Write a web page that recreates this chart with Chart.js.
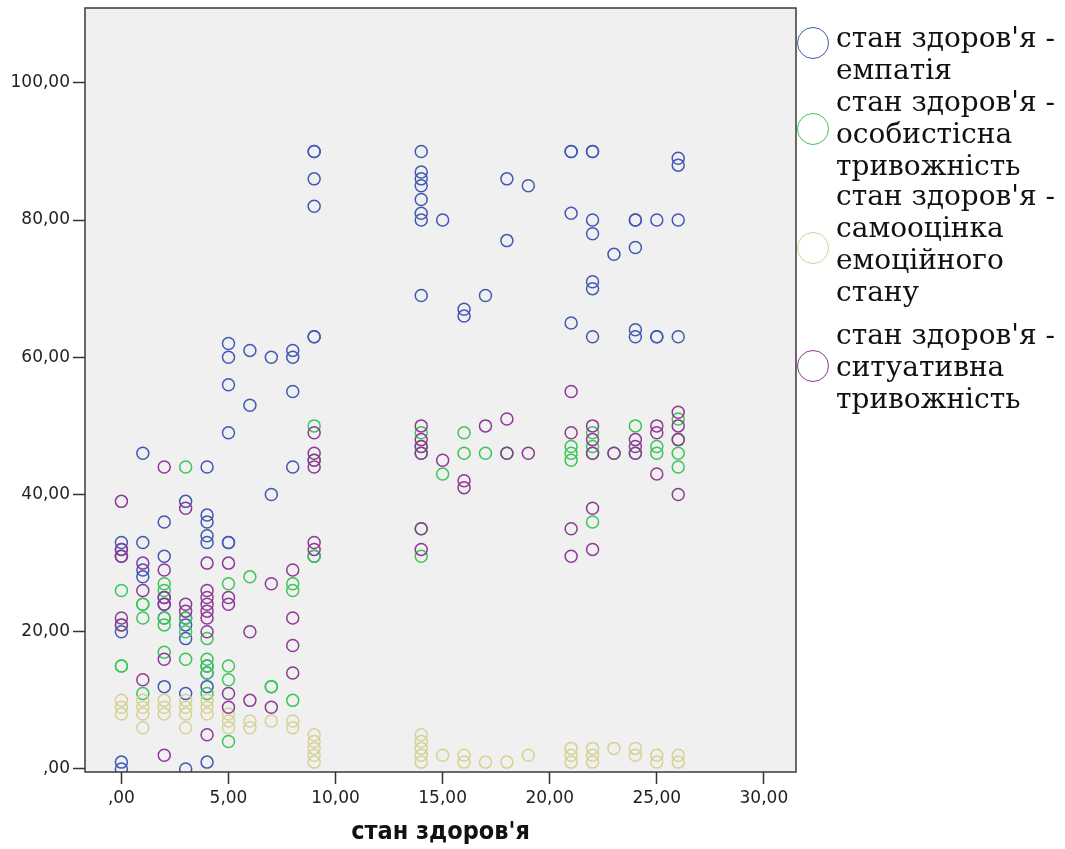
<!DOCTYPE html>
<html>
<head>
<meta charset="utf-8">
<script src="https://cdn.jsdelivr.net/npm/chart.js@4.4.1/dist/chart.umd.min.js"></script>
<style>
  html, body { margin: 0; padding: 0; background: #ffffff; }
  #wrap { position: relative; width: 1065px; height: 849px; overflow: hidden; }
  #c { position: absolute; left: 0; top: 0; }
  .lg-circle { position: absolute; width: 32px; height: 32px; border-radius: 50%; box-sizing: border-box; border: 1.6px solid; }
  .lg-text { position: absolute; left: 836px; font-family: "DejaVu Serif", "Liberation Serif", serif; font-size: 28px; line-height: 32px; color: #111; white-space: nowrap; }
</style>
</head>
<body>
<div id="wrap">
  <canvas id="c" width="1065" height="849"></canvas>
</div>
<script>
// ---------- data ----------
const seriesNames = [
  ["стан здоров'я -", "емпатія"],
  ["стан здоров'я -", "особистісна", "тривожність"],
  ["стан здоров'я -", "самооцінка", "емоційного", "стану"],
  ["стан здоров'я -", "ситуативна", "тривожність"]
];
const xTitle = "стан здоров'я";
const xTickValues = [0, 5, 10, 15, 20, 25, 30];
const yTickValues = [0, 20, 40, 60, 80, 100];

// емпатія
const empathyX = [
  0,0,0,0,0,0,
  1,1,1,1,
  2,2,2,2,2,2,
  3,3,3,3,3,3,
  4,4,4,4,4,4,4,4,4,
  5,5,5,5,5,5,
  6,6,
  7,7,
  8,8,8,8,
  9,9,9,9,9,9,9,
  14,14,14,14,14,14,14,14,
  15,
  16,16,
  17,
  18,18,
  19,
  21,21,21,21,
  22,22,22,22,22,22,22,
  23,
  24,24,24,24,24,
  25,25,25,
  26,26,26,26
];
const empathyY = [
  33,32,31,20,1,0,
  46,33,29,28,
  36,31,25,24,22,12,
  39,22,21,19,11,0,
  44,37,36,34,33,15,14,12,1,
  62,60,56,49,33,33,
  61,53,
  60,40,
  61,60,55,44,
  90,90,86,82,63,63,31,
  90,87,86,85,83,81,80,69,
  80,
  67,66,
  69,
  86,77,
  85,
  90,90,81,65,
  90,90,80,78,71,70,63,
  75,
  80,80,76,64,63,
  80,63,63,
  89,88,80,63
];

// особистісна тривожність
const personalX = [
  0,0,0,0,
  1,1,1,1,
  2,2,2,2,2,
  3,3,3,3,
  4,4,4,4,4,
  5,5,5,5,
  6,
  7,7,
  8,8,8,
  9,9,9,
  14,14,14,14,14,
  15,
  16,16,
  17,
  18,
  21,21,21,
  22,22,22,22,
  23,
  24,24,
  25,25,
  26,26,26,26
];
const personalY = [
  26,21,15,15,
  24,24,22,11,
  27,26,22,21,17,
  44,22,20,16,
  19,16,15,14,11,
  27,15,13,4,
  28,
  12,12,
  27,26,10,
  50,45,31,
  49,47,46,35,31,
  43,
  49,46,
  46,
  46,
  47,46,45,
  49,47,46,36,
  46,
  50,46,
  47,46,
  51,48,46,44
];

// самооцінка емоційного стану
const emotionalX = [
  0,0,0,
  1,1,1,1,
  2,2,2,
  3,3,3,3,
  4,4,4,
  5,5,5,
  6,6,
  7,
  8,8,
  9,9,9,9,9,
  14,14,14,14,14,
  15,
  16,16,
  17,
  18,
  19,
  21,21,21,
  22,22,22,
  23,
  24,24,
  25,25,
  26,26
];
const emotionalY = [
  10,9,8,
  10,9,8,6,
  10,9,8,
  10,9,8,6,
  10,9,8,
  8,7,6,
  7,6,
  7,
  7,6,
  5,4,3,2,1,
  5,4,3,2,1,
  2,
  2,1,
  1,
  1,
  2,
  3,2,1,
  3,2,1,
  3,
  3,2,
  2,1,
  2,1
];

// ситуативна тривожність
const situationalX = [
  0,0,0,0,0,
  1,1,1,
  2,2,2,2,2,2,
  3,3,3,
  4,4,4,4,4,4,4,4,
  5,5,5,5,5,
  6,6,
  7,7,
  8,8,8,8,
  9,9,9,9,9,9,
  14,14,14,14,14,14,
  15,
  16,16,
  17,
  18,18,
  19,
  21,21,21,21,
  22,22,22,22,22,
  23,
  24,24,24,
  25,25,25,
  26,26,26,26
];
const situationalY = [
  39,32,31,22,21,
  30,26,13,
  44,29,25,24,16,2,
  38,24,23,
  30,26,25,24,23,22,20,5,
  30,25,24,11,9,
  20,10,
  27,9,
  29,22,18,14,
  49,46,45,44,33,32,
  50,48,47,46,35,32,
  45,
  42,41,
  50,
  51,46,
  46,
  55,49,35,31,
  50,48,46,38,32,
  46,
  48,47,46,
  50,49,43,
  52,50,48,40
];

// ---------- styling ----------
const seriesColors = ['#4159b3', '#3cc657', '#d7d196', '#8f3996'];
const legendCircleTop = [27, 113, 232, 350];
const legendTextTop = [22, 86, 180, 319];

function toPoints(xs, ys) { return xs.map((x, i) => ({ x: x, y: ys[i] })); }
const seriesData = [
  toPoints(empathyX, empathyY),
  toPoints(personalX, personalY),
  toPoints(emotionalX, emotionalY),
  toPoints(situationalX, situationalY)
];

function fmt(v) {
  if (Math.abs(v) < 1e-9) return ',00';
  return Number(v).toFixed(2).replace('.', ',');
}

const plotFrame = {
  id: 'plotFrame',
  beforeDraw(chart) {
    const a = chart.chartArea, c = chart.ctx;
    c.save();
    c.fillStyle = '#f0f0f0';
    c.fillRect(a.left, a.top, a.right - a.left, a.bottom - a.top);
    c.restore();
  },
  afterDraw(chart) {
    const a = chart.chartArea, c = chart.ctx;
    c.save();
    c.strokeStyle = '#3a3a3a';
    c.lineWidth = 1.5;
    c.strokeRect(a.left, a.top, a.right - a.left, a.bottom - a.top);
    c.restore();
  }
};

const datasets = seriesData.map((d, i) => ({
  label: seriesNames[i].join(' '),
  data: d,
  showLine: false,
  pointStyle: 'circle',
  pointRadius: 6,
  pointHoverRadius: 6,
  pointBorderWidth: 1.5,
  borderColor: seriesColors[i],
  backgroundColor: 'rgba(0,0,0,0)',
  pointBackgroundColor: 'rgba(0,0,0,0)',
  order: 4 - i
}));

const tickFont = { family: 'DejaVu Sans', size: 17 };

new Chart(document.getElementById('c'), {
  type: 'scatter',
  data: { datasets: datasets },
  options: {
    responsive: false,
    animation: false,
    devicePixelRatio: 1,
    layout: { padding: { top: 8, right: 269, left: 0, bottom: 0 } },
    plugins: { legend: { display: false }, tooltip: { enabled: false } },
    scales: {
      x: {
        type: 'linear',
        min: -1.7,
        max: 31.5,
        afterBuildTicks: s => { s.ticks = xTickValues.map(v => ({ value: v })); },
        afterFit: s => { s.height = 77; },
        grid: { display: true, drawOnChartArea: false, drawTicks: true, tickLength: 12, tickColor: '#333', tickWidth: 1.5 },
        border: { display: false },
        ticks: { font: tickFont, color: '#222', padding: 4, maxRotation: 0, autoSkip: false, callback: v => fmt(v) },
        title: { display: true, text: xTitle, font: { family: 'DejaVu Sans Condensed', size: 25, weight: 'bold' }, color: '#111', padding: { top: 0, bottom: 2 } }
      },
      y: {
        type: 'linear',
        min: -0.44,
        max: 110.9,
        afterBuildTicks: s => { s.ticks = yTickValues.map(v => ({ value: v })); },
        afterFit: s => { s.width = 85; s.paddingTop = 0; },
        grid: { display: true, drawOnChartArea: false, drawTicks: true, tickLength: 12, tickColor: '#333', tickWidth: 1.5 },
        border: { display: false },
        ticks: { font: tickFont, color: '#222', padding: 3, autoSkip: false, callback: v => fmt(v) }
      }
    }
  },
  plugins: [plotFrame]
});

// ---------- legend (HTML) ----------
const wrap = document.getElementById('wrap');
seriesNames.forEach((lines, i) => {
  const circ = document.createElement('div');
  circ.className = 'lg-circle';
  circ.style.left = '797px';
  circ.style.top = legendCircleTop[i] + 'px';
  circ.style.borderColor = seriesColors[i];
  wrap.appendChild(circ);
  const t = document.createElement('div');
  t.className = 'lg-text';
  t.style.top = legendTextTop[i] + 'px';
  t.innerHTML = lines.map(s => s.replace(/&/g, '&amp;').replace(/</g, '&lt;')).join('<br>');
  wrap.appendChild(t);
});
</script>
</body>
</html>
